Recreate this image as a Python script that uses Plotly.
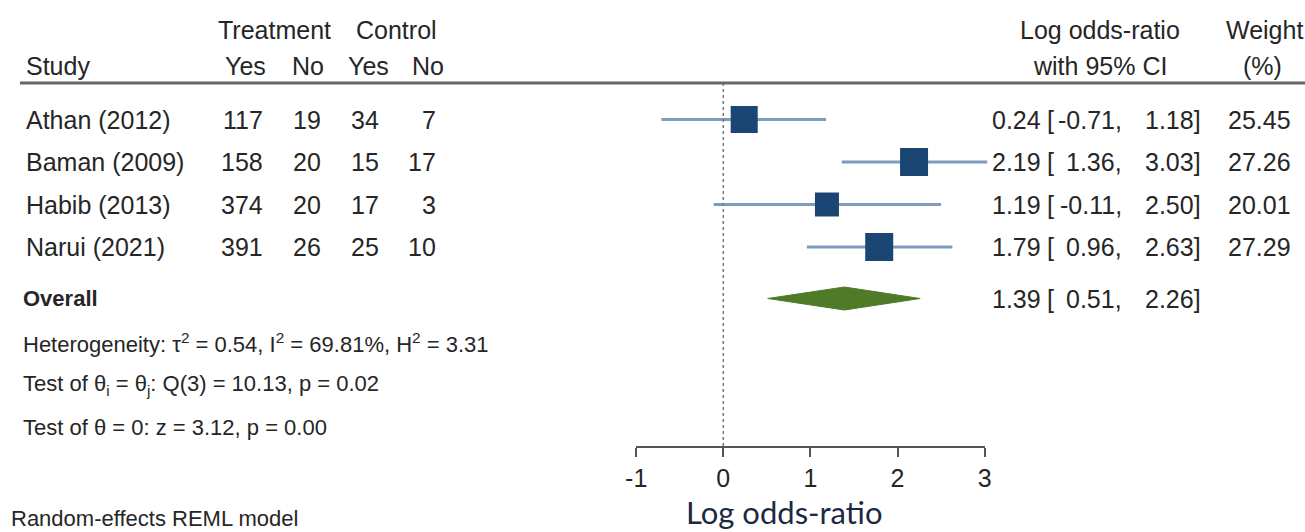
import numpy as np
import plotly.graph_objects as go

W, H = 1305, 532

studies = ["Athan (2012)", "Baman (2009)", "Habib (2013)", "Narui (2021)"]
treat_yes = [117, 158, 374, 391]
treat_no = [19, 20, 20, 26]
ctrl_yes = [34, 15, 17, 25]
ctrl_no = [7, 17, 3, 10]
est = [0.24, 2.19, 1.19, 1.79]
lo = [-0.71, 1.36, -0.11, 0.96]
hi = [1.18, 3.03, 2.50, 2.63]
weight = [25.45, 27.26, 20.01, 27.29]
overall = {"est": 1.39, "lo": 0.51, "hi": 2.26}
xticks = [-1, 0, 1, 2, 3]
stats_lines = [
    "Heterogeneity: τ<sup>2</sup> = 0.54, I<sup>2</sup> = 69.81%, H<sup>2</sup> = 3.31",
    "Test of θ<sub>i</sub> = θ<sub>j</sub>: Q(3) = 10.13, p = 0.02",
    "Test of θ = 0: z = 3.12, p = 0.00",
]

# layout geometry (pixels)
px_per_unit = 87.1
zero_px = 723.3
row1_px = 119.5
row_step = 42.5

def row_of(py):
    return 1 + (py - row1_px) / row_step

rows = [1, 2, 3, 4]
overall_row = row_of(298.5)
stat_rows = [row_of(343), row_of(385), row_of(427)]
sep_row = row_of(83)
axis_row = row_of(447)
hdr1_row = row_of(30)
hdr2_row = row_of(66)

FONT = "Liberation Sans, Arial, sans-serif"
FS = 25
FS2 = 22
TC = "#262626"

fig = go.Figure()

# CI lines
xs, ys = [], []
for l, h, r in zip(lo, hi, rows):
    xs += [l, h, None]
    ys += [r, r, None]
fig.add_trace(go.Scatter(x=xs, y=ys, mode="lines", line=dict(color="#7d9cbf", width=3),
                         hoverinfo="skip", showlegend=False))

# squares (area proportional to weight)
wmax = max(weight)
sizes = [28 * np.sqrt(w / wmax) for w in weight]
fig.add_trace(go.Scatter(x=est, y=rows, mode="markers", opacity=1,
                         marker=dict(symbol="square", size=sizes, color="#1b4674", opacity=1,
                                     line=dict(width=0)),
                         showlegend=False))

# overall diamond
hh = 11.5 / row_step
fig.add_trace(go.Scatter(
    x=[overall["lo"], overall["est"], overall["hi"], overall["est"], overall["lo"]],
    y=[overall_row, overall_row - hh, overall_row, overall_row + hh, overall_row],
    mode="lines", fill="toself", fillcolor="#4f7a28", line=dict(color="#4f7a28", width=1),
    showlegend=False))

# null line on the visible axis
fig.add_trace(go.Scatter(x=[0, 0], y=[sep_row, axis_row], mode="lines", xaxis="x2", yaxis="y",
                         line=dict(color="#777777", width=1.5, dash="dot"), showlegend=False))

x_min = -zero_px / px_per_unit
x_max = (W - zero_px) / px_per_unit
y_top = row_of(0)
y_bot = row_of(H)
d0 = (zero_px - px_per_unit) / W
d1 = (zero_px + 3 * px_per_unit) / W

fig.update_layout(
    width=W, height=H, margin=dict(l=0, r=0, t=0, b=0, autoexpand=False),
    paper_bgcolor="white", plot_bgcolor="rgba(0,0,0,0)",
    xaxis=dict(domain=[0, 1], range=[x_min, x_max], visible=False),
    xaxis2=dict(domain=[d0, d1], range=[-1, 3], anchor="free", position=1 - 447 / H,
                showline=True, linecolor="#555555", linewidth=1.5,
                ticks="outside", ticklen=9, tickwidth=1.5, tickcolor="#555555",
                tickvals=xticks, ticktext=[str(t) for t in xticks],
                tickfont=dict(family=FONT, size=FS, color=TC),
                showgrid=False, zeroline=False, automargin=False),
    yaxis=dict(domain=[0, 1], range=[y_bot, y_top], visible=False),
    showlegend=False,
)

fig.add_shape(type="line", xref="paper", yref="y", x0=20 / W, x1=1.0, y0=sep_row, y1=sep_row,
              line=dict(color="#666666", width=3))

def txt(px, row, s, anchor="left", size=FS, color=TC, family=FONT, yref="y", yanchor="middle"):
    fig.add_annotation(x=px / W, y=row, xref="paper", yref=yref, text=s, showarrow=False,
                       xanchor=anchor, yanchor=yanchor, align=anchor, borderpad=0,
                       font=dict(family=family, size=size, color=color))

# headers
txt(274, hdr1_row, "Treatment", "center")
txt(396, hdr1_row, "Control", "center")
txt(25, hdr2_row, "Study")
txt(267, hdr2_row, "Yes", "right")
txt(325, hdr2_row, "No", "right")
txt(390, hdr2_row, "Yes", "right")
txt(445, hdr2_row, "No", "right")
txt(1100, hdr1_row, "Log odds-ratio", "center")
txt(1100, hdr2_row, "with 95% CI", "center")
txt(1264, hdr1_row, "Weight", "center")
txt(1262, hdr2_row, "(%)", "center")

def fmt(v):
    return f"{v:.2f}"

for i, r in enumerate(rows):
    txt(25, r, studies[i])
    txt(264, r, str(treat_yes[i]), "right")
    txt(322, r, str(treat_no[i]), "right")
    txt(380, r, str(ctrl_yes[i]), "right")
    txt(437, r, str(ctrl_no[i]), "right")
    txt(1042, r, fmt(est[i]), "right")
    txt(1046, r, "[", "left")
    txt(1123, r, fmt(lo[i]) + ",", "right")
    txt(1202, r, fmt(hi[i]) + "]", "right")
    txt(1292, r, fmt(weight[i]), "right")

txt(22, overall_row, "<b>Overall</b>", size=FS2)
txt(1042, overall_row, fmt(overall["est"]), "right")
txt(1046, overall_row, "[", "left")
txt(1123, overall_row, fmt(overall["lo"]) + ",", "right")
txt(1202, overall_row, fmt(overall["hi"]) + "]", "right")

for s, r in zip(stats_lines, stat_rows):
    txt(22, r, s, size=FS2)

txt(10, 0, "Random-effects REML model", size=22, yref="paper", yanchor="bottom")
txt(784, 0, "Log odds-ratio", "center", size=31, color="#1b2a44",
    family="Lato, Open Sans, sans-serif", yref="paper", yanchor="bottom")

fig.write_html("out.html")
